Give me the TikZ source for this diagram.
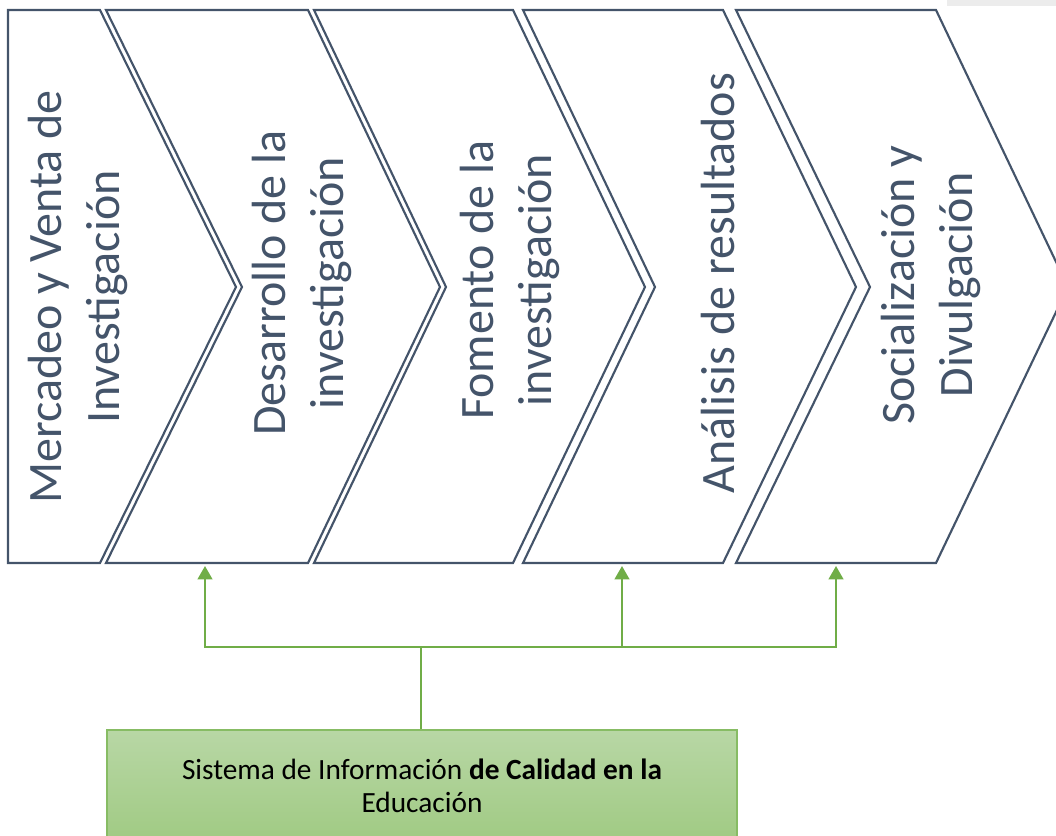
\documentclass[tikz,border=0pt]{standalone}
\usepackage{fontspec}
\setmainfont{Carlito}
\usetikzlibrary{arrows.meta}

\definecolor{slate}{RGB}{68,84,106}
\definecolor{leaf}{RGB}{112,173,71}
\definecolor{leafedge}{RGB}{135,188,100}
\definecolor{leaftop}{RGB}{184,215,165}
\definecolor{leafbot}{RGB}{160,202,131}

\tikzset{
  chev/.style={draw=slate, line width=1.6pt, line join=miter, fill=white},
  lbl/.style={rotate=90, align=center, text=slate, inner sep=0pt, font=\fontsize{36}{44}\selectfont},
  flow/.style={draw=leaf, line width=1.6pt, -{Triangle[width=11pt,length=10pt]}},
  trunk/.style={draw=leaf, line width=1.6pt},
  sisbox/.style={draw=leafedge, line width=1pt, top color=leaftop, bottom color=leafbot,
    minimum width=472.5pt, minimum height=84pt, align=center, inner sep=0pt,
    font=\fontsize{22}{25}\selectfont}
}

\begin{document}
\begin{tikzpicture}[x=0.75pt,y=0.75pt,yscale=-1,xscale=1]
	\useasboundingbox (0,0) rectangle (1056,835);
	\clip (0,0) rectangle (1056,835);
	\fill [color={rgb, 255:red, 236; green, 236; blue, 236 }] (947,0) rectangle (1056,6);
	% chevrons
	\draw [chev] (8,10) -- (100,10) -- (236,287) -- (100,563) -- (8,563) -- cycle ;
	\draw [chev] (106,10) -- (308,10) -- (440,287) -- (308,563) -- (106,563) -- (242,287) -- cycle ;
	\draw [chev] (314,10) -- (513,10) -- (645,287) -- (513,563) -- (314,563) -- (446,287) -- cycle ;
	\draw [chev] (523,10) -- (723,10) -- (856,287) -- (723,563) -- (523,563) -- (655,287) -- cycle ;
	\draw [chev] (736,10) -- (936,10) -- (1068,287) -- (936,563) -- (736,563) -- (870,287) -- cycle ;
	% labels
	\node [lbl] (merc) at (78,297) {Mercadeo y Venta de\\Investigación};
	\node [lbl] (desa) at (302,283) {Desarrollo de la\\investigación};
	\node [lbl] (fome) at (510,280) {Fomento de la\\investigación};
	\node [lbl] (anal) at (718,283) {Análisis de resultados};
	\node [lbl] (soci) at (931,285) {Socialización y\\Divulgación};
	% info system
	\node [sisbox] (sis) at (422,786) {Sistema de Información \textbf{de Calidad en la}\\Educación};
	\coordinate (hub) at (421,647);
	\coordinate (desb) at (205,566);
	\coordinate (anab) at (622,566);
	\coordinate (socb) at (836,566);
	\draw [trunk] (sis.north -| hub) -- (hub) ;
	\draw [flow] (hub) -| (desb) ;
	\draw [flow] (hub) -| (anab) ;
	\draw [flow] (hub) -| (socb) ;
\end{tikzpicture}
\end{document}
